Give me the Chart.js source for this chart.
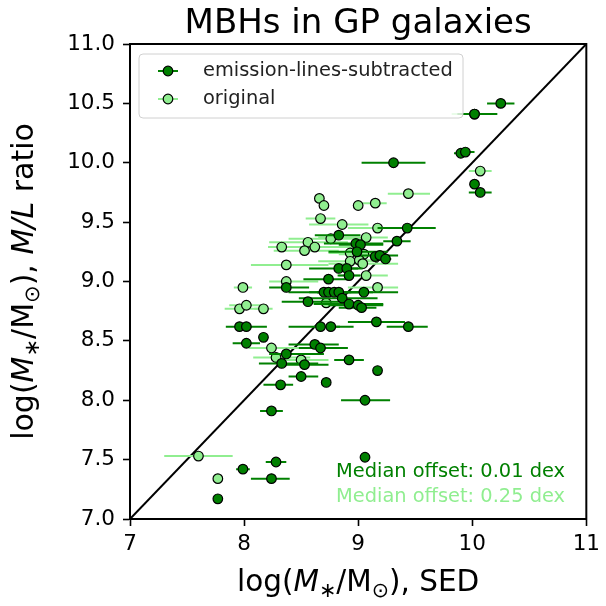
<!DOCTYPE html>
<html><head><meta charset="utf-8">
<script src="https://cdn.jsdelivr.net/npm/chart.js@4/dist/chart.umd.min.js"></script>
<style>html,body{margin:0;padding:0;background:#fff;}</style>
</head><body>
<canvas id="c" width="606" height="606"></canvas>
<script>
// ---------- data ----------
const seriesLabels = ['emission-lines-subtracted', 'original'];
const medianOffsets = [0.01, 0.25];
const xTickValues = [7, 8, 9, 10, 11];
const yTickValues = [7.0, 7.5, 8.0, 8.5, 9.0, 9.5, 10.0, 10.5, 11.0];
const oneToOne = [7, 11];

const darkX = [10.25,10.02,9.90,9.94,9.31,10.02,10.07,9.43,8.83,9.34,8.98,9.02,8.99,9.15,9.19,9.24,8.83,8.90,8.92,8.74,8.37,8.70,8.74,8.79,8.83,9.05,8.86,8.56,8.92,9.00,9.03,9.16,9.44,8.67,8.76,7.96,8.02,8.17,8.02,8.62,8.67,8.37,8.33,8.53,8.92,9.17,8.50,8.72,8.32,9.06,8.24,8.28,7.99,8.24,7.77,9.06];
const darkY = [10.50,10.41,10.08,10.09,10.00,9.82,9.75,9.45,9.39,9.34,9.32,9.31,9.25,9.21,9.22,9.19,9.11,9.11,9.05,9.02,8.95,8.91,8.91,8.91,8.91,8.91,8.86,8.83,8.81,8.80,8.78,8.66,8.62,8.62,8.62,8.62,8.62,8.53,8.48,8.47,8.44,8.39,8.31,8.30,8.34,8.25,8.20,8.15,8.13,8.00,7.91,7.48,7.42,7.34,7.17,7.52];
const darkErrLo = [0.12,0.15,0.06,0.05,0.28,0.02,0.10,0.26,0.21,0.12,0.28,0.19,0.25,0.05,0.19,0.05,0.26,0.10,0.10,0.22,0.15,0.31,0.10,0.15,0.26,0.31,0.38,0.23,0.31,0.26,0.20,0.25,0.19,0.28,0.08,0.12,0.05,0.03,0.12,0.23,0.19,0.15,0.20,0.23,0.13,0,0.11,0,0.15,0.21,0.10,0.09,0.06,0.18,0,0];
const darkErrHi = [0.12,0.20,0.04,0.08,0.28,0.02,0.10,0.25,0.19,0.12,0.24,0.20,0.27,0.05,0.16,0.05,0.21,0.10,0.10,0.17,0.20,0.30,0.10,0.15,0.30,0.30,0.31,0.27,0.30,0.22,0.13,0.25,0.17,0.29,0.08,0.24,0.05,0.03,0.12,0.21,0.24,0.33,0.32,0.21,0.13,0,0.15,0,0.11,0.22,0.10,0.09,0.06,0.16,0,0];

const lightX = [9.44,9.00,9.15,8.66,8.70,8.67,8.86,9.17,9.07,8.76,8.33,8.56,8.62,8.53,8.93,9.05,8.37,8.93,9.01,9.04,9.07,8.37,7.99,9.17,8.72,7.96,8.02,8.17,8.24,8.28,8.50,7.60,7.77,10.07,10.02];
const lightY = [9.74,9.64,9.66,9.70,9.64,9.53,9.48,9.45,9.37,9.36,9.29,9.33,9.29,9.26,9.24,9.23,9.14,9.17,9.18,9.15,9.05,9.00,8.95,8.95,8.82,8.77,8.80,8.77,8.44,8.36,8.34,7.53,7.34,9.93,10.41];
const lightErrLo = [0.18,0,0.12,0.03,0.03,0.13,0.29,0.26,0.42,0.37,0.12,0.34,0.36,0.27,0.19,0.22,0.31,0.28,0.10,0.30,0.24,0.15,0.08,0.26,0.20,0.13,0.15,0.08,0.20,0.20,0.20,0.30,0,0.10,0.20];
const lightErrHi = [0.19,0,0.10,0.03,0.03,0.13,0.23,0.18,0.19,0.33,0.35,0.35,0.34,0.30,0.29,0.17,0.37,0.24,0.10,0.31,0.19,0.28,0.08,0.18,0.28,0.18,0.18,0.08,0.35,0.30,0.24,0.30,0,0.10,0.15];

// ---------- helpers ----------
const FONT = "'DejaVu Sans', sans-serif";
const DARK = '#008000';
const LIGHT = '#90EE90';
const toPts = (xs, ys) => xs.map((x, i) => ({x: x, y: ys[i]}));

function richWidth(ctx, segs, size) {
  let w = 0;
  segs.forEach(s => {
    ctx.font = (s.i ? 'italic ' : '') + (s.s ? size * 0.7 : size) + 'px ' + FONT;
    w += ctx.measureText(s.t).width;
  });
  return w;
}
function drawRich(ctx, segs, size, cx, baseY) {
  const w = richWidth(ctx, segs, size);
  let x = cx - w / 2;
  ctx.textAlign = 'left';
  ctx.textBaseline = 'alphabetic';
  segs.forEach(s => {
    ctx.font = (s.i ? 'italic ' : '') + (s.s ? size * 0.7 : size) + 'px ' + FONT;
    ctx.fillText(s.t, x, baseY + (s.s ? size * 0.2 : 0));
    x += ctx.measureText(s.t).width;
  });
}

const errorBars = {
  id: 'errorBars',
  beforeDatasetDraw(chart, args) {
    const ds = chart.data.datasets[args.index];
    if (!ds.errLo) return;
    const ctx = chart.ctx, xs = chart.scales.x, ys = chart.scales.y, a = chart.chartArea;
    ctx.save();
    ctx.beginPath(); ctx.rect(a.left, a.top, a.right - a.left, a.bottom - a.top); ctx.clip();
    ctx.strokeStyle = ds.barColor; ctx.lineWidth = 2;
    ds.data.forEach((p, i) => {
      const lo = ds.errLo[i], hi = ds.errHi[i];
      if (!(lo > 0 || hi > 0)) return;
      const py = ys.getPixelForValue(p.y);
      ctx.beginPath();
      ctx.moveTo(xs.getPixelForValue(p.x - lo), py);
      ctx.lineTo(xs.getPixelForValue(p.x + hi), py);
      ctx.stroke();
    });
    ctx.restore();
  }
};

const decor = {
  id: 'decor',
  afterDraw(chart) {
    const ctx = chart.ctx, a = chart.chartArea;
    ctx.save();
    // frame
    ctx.strokeStyle = '#000'; ctx.lineWidth = 2;
    ctx.strokeRect(a.left, a.top, a.right - a.left, a.bottom - a.top);
    // title
    ctx.fillStyle = '#000';
    ctx.font = '34px ' + FONT; ctx.textAlign = 'center'; ctx.textBaseline = 'alphabetic';
    ctx.fillText('MBHs in GP galaxies', (a.left + a.right) / 2, 33);
    // axis labels
    const xl = [{t:'log('},{t:'M',i:1},{t:'\u2217',s:1},{t:'/M'},{t:'\u2299',s:1},{t:'), SED'}];
    drawRich(ctx, xl, 29.5, (a.left + a.right) / 2, 591);
    const yl = [{t:'log('},{t:'M',i:1},{t:'\u2217',s:1},{t:'/M'},{t:'\u2299',s:1},{t:'), '},{t:'M/L',i:1},{t:' ratio'}];
    ctx.save();
    ctx.translate(33, (a.top + a.bottom) / 2);
    ctx.rotate(-Math.PI / 2);
    drawRich(ctx, yl, 30, 0, 0);
    ctx.restore();
    // legend
    const bx = 139, by = 54, bw = 324, bh = 64, r = 4;
    ctx.beginPath();
    ctx.moveTo(bx + r, by); ctx.lineTo(bx + bw - r, by); ctx.arcTo(bx + bw, by, bx + bw, by + r, r);
    ctx.lineTo(bx + bw, by + bh - r); ctx.arcTo(bx + bw, by + bh, bx + bw - r, by + bh, r);
    ctx.lineTo(bx + r, by + bh); ctx.arcTo(bx, by + bh, bx, by + bh - r, r);
    ctx.lineTo(bx, by + r); ctx.arcTo(bx, by, bx + r, by, r); ctx.closePath();
    ctx.fillStyle = 'rgba(255,255,255,0.8)'; ctx.fill();
    ctx.strokeStyle = '#d0d0d0'; ctx.lineWidth = 1; ctx.stroke();
    const rows = [{c: DARK, y: 71}, {c: LIGHT, y: 99}];
    rows.forEach((row, k) => {
      const mx = 168;
      ctx.strokeStyle = row.c; ctx.lineWidth = 2;
      ctx.beginPath(); ctx.moveTo(mx - 10, row.y); ctx.lineTo(mx + 10, row.y); ctx.stroke();
      ctx.beginPath(); ctx.arc(mx, row.y, 4.8, 0, Math.PI * 2);
      ctx.fillStyle = row.c; ctx.fill();
      ctx.strokeStyle = '#000'; ctx.lineWidth = 1.2; ctx.stroke();
      ctx.fillStyle = '#222'; ctx.font = '19.4px ' + FONT;
      ctx.textAlign = 'left'; ctx.textBaseline = 'middle';
      ctx.fillText(chart.data.datasets[k].label, 203, row.y);
    });
    // median offsets
    ctx.font = '19.4px ' + FONT; ctx.textAlign = 'right'; ctx.textBaseline = 'alphabetic';
    ctx.fillStyle = DARK;
    ctx.fillText('Median offset: ' + medianOffsets[0].toFixed(2) + ' dex', 565, 477);
    ctx.fillStyle = LIGHT;
    ctx.fillText('Median offset: ' + medianOffsets[1].toFixed(2) + ' dex', 565, 502);
    ctx.restore();
  }
};

new Chart(document.getElementById('c'), {
  type: 'scatter',
  data: {
    datasets: [
      {label: seriesLabels[0], data: toPts(darkX, darkY), errLo: darkErrLo, errHi: darkErrHi, barColor: DARK,
       pointRadius: 4.8, pointHoverRadius: 4.8, pointBackgroundColor: DARK, pointBorderColor: '#000', pointBorderWidth: 1.2, showLine: false},
      {label: seriesLabels[1], data: toPts(lightX, lightY), errLo: lightErrLo, errHi: lightErrHi, barColor: LIGHT,
       pointRadius: 4.8, pointHoverRadius: 4.8, pointBackgroundColor: LIGHT, pointBorderColor: '#000', pointBorderWidth: 1.2, showLine: false},
      {label: '1:1', type: 'line', data: toPts(oneToOne, oneToOne), borderColor: '#000', borderWidth: 2,
       pointRadius: 0, fill: false, showLine: true}
    ]
  },
  options: {
    responsive: false,
    animation: false,
    events: [],
    layout: {padding: {top: 44, right: 16, left: 0, bottom: 0}},
    plugins: {legend: {display: false}, title: {display: false}, tooltip: {enabled: false}},
    scales: {
      x: {
        type: 'linear', min: 7, max: 11,
        afterBuildTicks: s => { s.ticks = xTickValues.map(v => ({value: v})); },
        afterFit: s => { s.height = 87; },
        ticks: {color: '#000', font: {family: FONT, size: 21.5}, padding: 6, maxRotation: 0,
                callback: v => String(v)},
        grid: {drawOnChartArea: false, drawTicks: true, tickLength: 7, tickWidth: 1.6, tickColor: '#000'},
        border: {display: true, color: '#000', width: 2}
      },
      y: {
        type: 'linear', min: 7, max: 11,
        afterBuildTicks: s => { s.ticks = yTickValues.map(v => ({value: v})); },
        afterFit: s => { s.width = 130; },
        ticks: {color: '#000', font: {family: FONT, size: 21.5}, padding: 8,
                callback: v => Number(v).toFixed(1)},
        grid: {drawOnChartArea: false, drawTicks: true, tickLength: 7, tickWidth: 1.6, tickColor: '#000'},
        border: {display: true, color: '#000', width: 2}
      }
    }
  },
  plugins: [errorBars, decor]
});
</script>
</body></html>
